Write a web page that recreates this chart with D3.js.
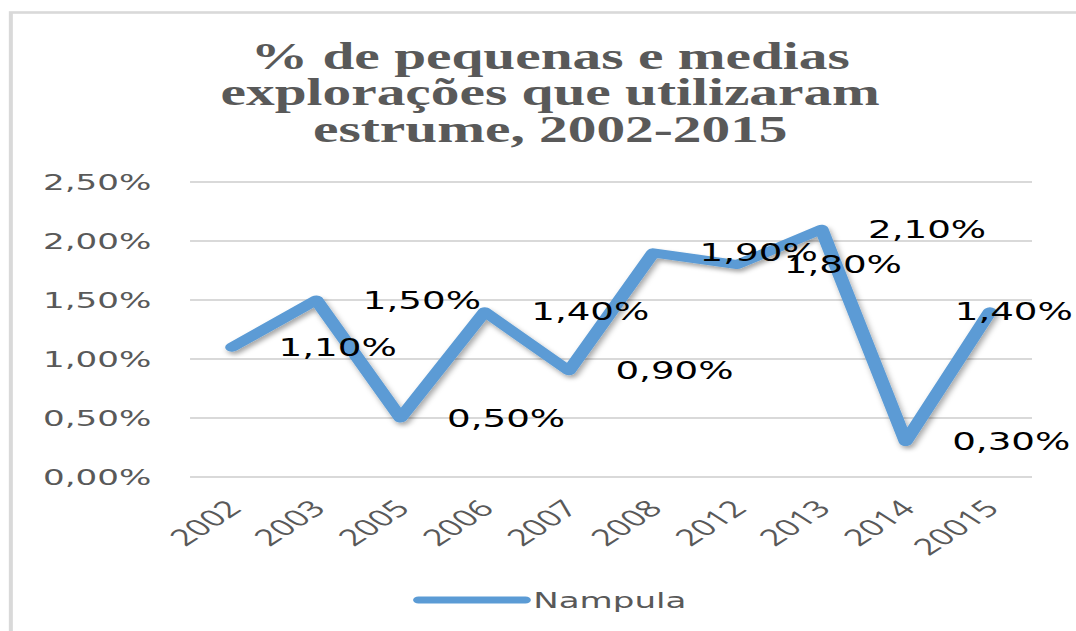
<!DOCTYPE html>
<html lang="pt">
<head>
    <meta charset="UTF-8">
    <title>% de pequenas e medias explorações que utilizaram estrume</title>
    <script src="https://d3js.org/d3.v7.min.js"></script>
    <style>
        body { margin: 0; background: #fff; }
        svg { display: block; }
    </style>
</head>
<body>
    <div id="chart"></div>
    <script>
        // Data
        const categories = ["2002", "2003", "2005", "2006", "2007", "2008", "2012", "2013", "2014", "20015"];
        const values = [1.1, 1.5, 0.5, 1.4, 0.9, 1.9, 1.8, 2.1, 0.3, 1.4]; // percent
        const yTicks = [0, 0.5, 1.0, 1.5, 2.0, 2.5];
        const seriesName = "Nampula";
        const titleLines = ["% de pequenas e medias", "explorações que utilizaram", "estrume, 2002-2015"];

        // The reference picture is stretched horizontally, so draw in a narrower
        // coordinate space and let the viewBox stretch it out.
        const outerW = 1076, H = 631;
        const SX = 1.55;
        const W = outerW / SX;

        const pt = d3.formatLocale({decimal: ",", thousands: ".", grouping: [3], currency: ["", ""]});
        const fmt = v => pt.format(".2f")(v) + "%";

        const svg = d3.select("#chart").append("svg")
            .attr("width", outerW)
            .attr("height", H)
            .attr("viewBox", `0 0 ${W} ${H}`)
            .attr("preserveAspectRatio", "none");

        // shadow for the line
        const filter = svg.append("defs").append("filter")
            .attr("id", "shadow")
            .attr("x", "-10%").attr("y", "-10%")
            .attr("width", "130%").attr("height", "130%");
        filter.append("feDropShadow")
            .attr("dx", 1.5).attr("dy", 3)
            .attr("stdDeviation", 2)
            .attr("flood-color", "#000")
            .attr("flood-opacity", 0.35);

        // chart border (only top and left visible)
        svg.append("rect")
            .attr("x", 7).attr("y", 12.5)
            .attr("width", W + 20).attr("height", H + 20)
            .attr("fill", "none")
            .attr("stroke", "#d9d9d9")
            .attr("stroke-width", 2.6);

        // Title
        svg.append("text")
            .attr("x", 355)
            .attr("y", 69)
            .style("font-family", "'Liberation Serif', 'Times New Roman', serif")
            .style("font-weight", "bold")
            .style("font-size", "37px")
            .style("fill", "#595959")
            .attr("text-anchor", "middle")
            .selectAll("tspan")
            .data(titleLines)
            .join("tspan")
                .attr("x", 355)
                .attr("dy", (d, i) => i === 0 ? 0 : 36.5)
                .text(d => d);

        // Scales
        const plot = {left: 122.6, right: 665.8, top: 182, bottom: 477};

        const x = d3.scaleBand()
            .domain(categories)
            .range([plot.left, plot.right])
            .padding(0);

        const y = d3.scaleLinear()
            .domain([0, 2.5])
            .range([plot.bottom, plot.top]);

        // Gridlines
        svg.append("g")
            .selectAll("line")
            .data(yTicks)
            .join("line")
                .attr("x1", plot.left)
                .attr("x2", plot.right)
                .attr("y1", d => y(d))
                .attr("y2", d => y(d))
                .attr("stroke", "#d9d9d9")
                .attr("stroke-width", 2);

        // Y axis labels
        const yAxis = d3.axisLeft(y)
            .tickValues(yTicks)
            .tickSize(0)
            .tickPadding(25)
            .tickFormat(fmt);

        svg.append("g")
            .attr("transform", `translate(${plot.left},0)`)
            .call(yAxis)
            .call(g => g.select(".domain").remove())
            .call(g => g.selectAll("text")
                .style("font-family", "'DejaVu Sans', Verdana, sans-serif")
                .style("font-size", "22px")
                .style("fill", "#595959"));

        // X axis labels
        const xAxis = d3.axisBottom(x).tickSize(0).tickPadding(0);
        svg.append("g")
            .attr("transform", `translate(0,${plot.bottom})`)
            .call(xAxis)
            .call(g => g.select(".domain").remove())
            .call(g => g.selectAll("text")
                .attr("y", 0).attr("dy", 0)
                .attr("text-anchor", "end")
                .attr("transform", "translate(7,33) rotate(-45)")
                .style("font-family", "'Open Sans', sans-serif")
                .style("font-size", "23px")
                .style("fill", "#595959"));

        // Line
        const points = categories.map((c, i) => ({cat: c, value: values[i]}));
        const line = d3.line()
            .x(d => x(d.cat) + x.bandwidth() / 2)
            .y(d => y(d.value));

        svg.append("path")
            .datum(points)
            .attr("d", line)
            .attr("fill", "none")
            .attr("stroke", "#5b9bd5")
            .attr("stroke-width", 9)
            .attr("stroke-linejoin", "round")
            .attr("stroke-linecap", "round")
            .attr("filter", "url(#shadow)");

        // Data labels, placed to the right of each point
        const labels = svg.append("g")
            .selectAll("text")
            .data(points)
            .join("text")
                .attr("x", d => x(d.cat) + x.bandwidth() / 2 + 30)
                .attr("y", d => y(d.value))
                .attr("dy", "0.36em")
                .style("font-family", "'DejaVu Sans', Verdana, sans-serif")
                .style("font-size", "24px")
                .style("fill", "#000")
                .text(d => fmt(d.value));

        // keep labels inside the chart area
        labels.each(function() {
            const w = this.getComputedTextLength();
            const x0 = +d3.select(this).attr("x");
            if (x0 + w > W - 2) d3.select(this).attr("x", W - 2 - w);
        });

        // Legend
        const legend = svg.append("g").attr("transform", "translate(270,600)");
        legend.append("line")
            .attr("x1", 0).attr("x2", 69)
            .attr("stroke", "#5b9bd5")
            .attr("stroke-width", 7)
            .attr("stroke-linecap", "round");
        legend.append("text")
            .attr("x", 74)
            .attr("dy", "0.36em")
            .style("font-family", "'DejaVu Sans', Verdana, sans-serif")
            .style("font-size", "22px")
            .style("fill", "#595959")
            .text(seriesName);
    </script>
</body>
</html>
